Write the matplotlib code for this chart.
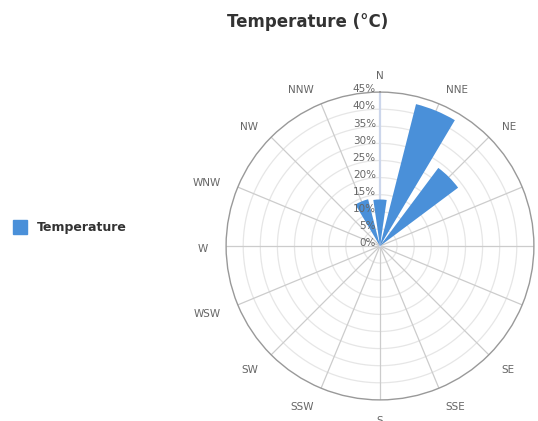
import numpy as np
import matplotlib
matplotlib.use('Agg')
import matplotlib.pyplot as plt
import matplotlib.transforms as mtransforms

directions = ['N', 'NNE', 'NE', 'ENE', 'E', 'ESE', 'SE', 'SSE',
              'S', 'SSW', 'SW', 'WSW', 'W', 'WNW', 'NW', 'NNW']
temperature = [13.6, 42.8, 28.5, 0, 0, 0, 0, 0,
               0, 0, 0, 0, 0, 0, 0, 14.1]
rticks = [0, 5, 10, 15, 20, 25, 30, 35, 40, 45]
# labels that fall past the right edge of the chart, not shown in the reference
hidden = ['ENE', 'E', 'ESE']

bar_color = '#4a90d9'
W, H = 538, 421
cx, cy, R = 380, 246, 153.9

fig = plt.figure(figsize=(W / 100, H / 100), dpi=100)
ax = fig.add_axes([(cx - R) / W, (H - cy - R) / H, 2 * R / W, 2 * R / H], projection='polar')
ax.set_theta_zero_location('N')
ax.set_theta_direction(-1)

theta = np.deg2rad(np.arange(len(directions)) * 22.5)
ax.bar(theta, temperature, width=np.deg2rad(16.5), bottom=0, color=bar_color,
       edgecolor='none', zorder=3, align='center')

ax.set_ylim(0, 45)
ax.set_yticks(rticks[1:-1])
ax.set_yticklabels([])
ax.set_xticks(theta)
ax.set_xticklabels([])
ax.grid(False)

# circular grid
tt = np.linspace(0, 2 * np.pi, 400)
for r in rticks[1:-1]:
    ax.plot(tt, [r] * len(tt), color='#e6e6e6', lw=0.9, zorder=1)
# radial grid
for t in theta[1:]:
    ax.plot([t, t], [0, 45], color='#cccccc', lw=0.9, zorder=1.5)
# y axis line (north)
ax.plot([0, 0], [0, 45], color='#ccd6eb', lw=1.6, zorder=2)
ax.spines['polar'].set_color('#999999')
ax.spines['polar'].set_linewidth(1.0)

# radial labels
off = mtransforms.offset_copy(ax.transData, fig=fig, x=-3, y=2, units='points')
for r in rticks:
    ax.text(0, r, '%d%%' % r, transform=off, ha='right', va='center',
            fontsize=7.5, color='#666666', zorder=4)

# direction labels: right-aligned on the left side, left-aligned on the right
lab = mtransforms.offset_copy(ax.transData, fig=fig, x=0, y=-2.5, units='dots')
for t, d in zip(theta, directions):
    if d in hidden:
        continue
    s = np.sin(t)
    ha = 'center' if abs(s) < 1e-6 else ('left' if s > 0 else 'right')
    ax.text(t, 50.3, d, transform=lab, ha=ha, va='center', fontsize=7.5,
            color='#666666', clip_on=False)

fig.text(308 / W, 1 - 22 / H, 'Temperature (°C)', ha='center', va='center',
         fontsize=12, fontweight='bold', color='#333333')

# legend
fig.patches.append(plt.Rectangle((13 / W, 1 - 234 / H), 14 / W, 14 / H,
                                 transform=fig.transFigure, color=bar_color))
fig.text(37 / W, 1 - 227.5 / H, 'Temperature', ha='left', va='center',
         fontsize=9, fontweight='bold', color='#333333')

fig.savefig('out.png', dpi=100)
